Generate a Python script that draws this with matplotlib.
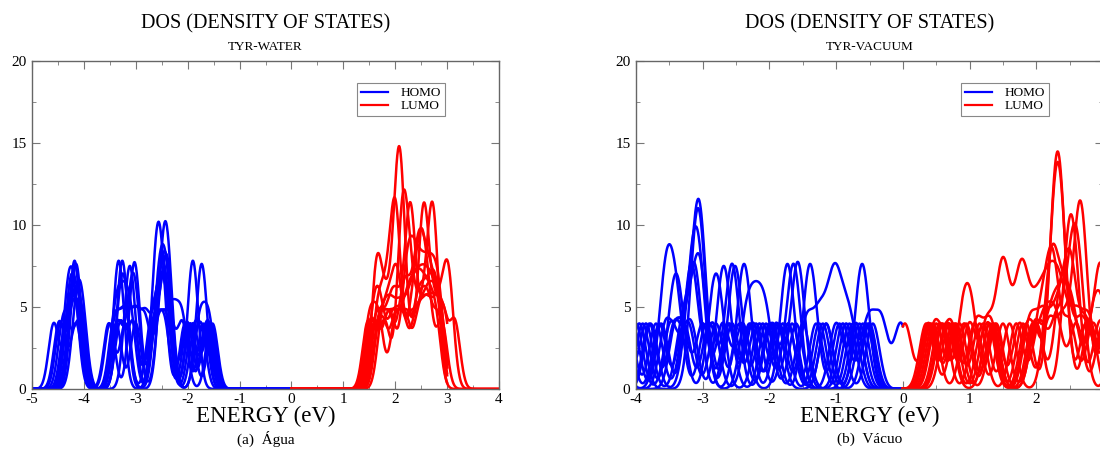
import numpy as np
import matplotlib
matplotlib.use("Agg")
import matplotlib.pyplot as plt
from matplotlib.ticker import MultipleLocator

plt.rcParams['font.family'] = ['Liberation Serif', 'DejaVu Serif']
plt.rcParams['axes.unicode_minus'] = False

# Broadening width (eV) of each orbital level in the DOS
SIGMA = 0.1

# Occupied / virtual orbital energies (eV) for each MD snapshot, tyrosine in water
water_homo = [
    [-4.58, -4.28, -4.12, -3.50, -3.05, -3.00, -2.62, -2.42, -2.38, -1.92, -1.88],
    [-4.48, -4.22, -4.08, -3.35, -3.31, -2.50, -2.43, -2.36, -1.76, -1.70],
    [-4.20, -4.16, -3.28, -3.24, -2.62, -2.57, -2.48, -2.05, -1.65],
    [-4.28, -4.18, -3.40, -3.20, -3.00, -2.80, -2.58, -2.47, -2.28, -2.10, -1.55],
    [-4.15, -4.03, -3.40, -3.25, -3.10, -2.60, -2.40, -1.95, -1.52],
    [-4.35, -4.10, -3.52, -3.20, -2.70, -2.52, -2.40, -1.85, -1.60],
    [-4.40, -4.20, -4.05, -3.35, -3.10, -3.00, -2.65, -2.45, -2.00, -1.62],
    [-4.30, -4.15, -3.30, -3.20, -2.58, -2.48, -2.38, -1.77, -1.59],
    [-4.45, -4.15, -3.42, -3.22, -3.02, -2.82, -2.55, -2.35, -2.10, -1.70],
    [-4.25, -4.08, -3.30, -3.05, -2.68, -2.50, -2.42, -1.90, -1.58],
    [-4.32, -4.22, -4.05, -3.15, -3.08, -2.60, -2.45, -2.38, -2.02, -1.75],
    [-4.18, -4.12, -3.38, -3.00, -2.52, -2.42, -1.95, -1.62],
]
water_lumo = [
    [1.47, 1.72, 1.92, 2.18, 2.28, 2.38, 2.50, 2.62, 2.74, 2.86],
    [1.62, 1.68, 1.85, 2.02, 2.06, 2.10, 2.14, 2.40, 2.55, 2.70, 2.82],
    [1.55, 1.80, 2.10, 2.15, 2.20, 2.32, 2.50, 2.65, 2.85],
    [1.70, 1.90, 2.05, 2.24, 2.29, 2.34, 2.55, 2.70, 2.85],
    [1.60, 1.85, 2.05, 2.25, 2.50, 2.55, 2.60, 2.78, 2.96],
    [1.65, 1.80, 1.95, 2.00, 2.05, 2.30, 2.50, 2.67, 2.72, 2.77],
    [1.52, 1.75, 2.00, 2.20, 2.45, 2.62, 2.80, 2.97, 3.05],
    [1.58, 1.72, 1.95, 2.15, 2.40, 2.58, 2.75, 2.92, 3.15],
    [1.75, 1.92, 2.10, 2.28, 2.42, 2.55, 2.68, 2.83],
    [1.50, 1.68, 2.00, 2.20, 2.35, 2.48, 2.62, 2.78],
    [1.68, 1.88, 2.12, 2.25, 2.42, 2.48, 2.60, 2.72, 2.88],
    [1.62, 1.82, 1.98, 2.08, 2.32, 2.47, 2.52, 2.65, 2.90],
]
# upper end of the energy grid used for each LUMO curve
water_lumo_end = [3.0, 3.0, 3.0, 3.0, 3.0, 3.0, 4.0, 4.0, 3.0, 4.0, 3.0, 4.0]

# Same quantities for tyrosine in vacuum
vacuum_homo = [
    [-4.05, -3.58, -3.50, -3.38, -2.95, -2.56, -2.20, -1.72, -1.30, -0.80],
    [-4.30, -3.95, -3.12, -3.07, -3.02, -2.62, -2.05, -1.66, -1.00, -0.70],
    [-4.20, -3.85, -3.30, -3.10, -3.06, -3.02, -2.35, -2.20, -2.05, -1.60, -0.90, -0.55],
    [-4.40, -3.78, -3.20, -3.09, -3.05, -2.70, -2.40, -1.76, -1.70, -1.15, -0.65],
    [-4.12, -3.70, -3.25, -3.08, -3.02, -2.45, -1.98, -1.67, -1.61, -0.85, -0.50],
    [-4.25, -3.62, -3.20, -3.14, -2.85, -2.30, -1.90, -1.60, -1.55, -0.75],
    [-3.90, -3.45, -3.35, -2.85, -2.75, -2.15, -1.80, -1.25, -0.60],
    [-4.35, -3.40, -3.16, -3.10, -2.60, -2.25, -1.95, -1.42, -1.36, -0.95, -0.45],
    [-4.15, -3.65, -3.28, -2.90, -2.59, -2.53, -2.00, -1.50, -0.64, -0.58],
    [-4.00, -3.48, -3.22, -2.80, -2.41, -2.35, -1.85, -1.45, -1.25, -1.07, -0.97,
     -0.80, -0.52, -0.32, -0.03],
    [-4.50, -3.55, -3.32, -3.00, -2.55, -2.48, -2.10, -1.72, -1.20, -0.70],
    [-3.80, -3.42, -3.18, -2.72, -2.65, -2.28, -1.88, -1.15, -0.52],
]
vacuum_lumo = [
    [0.03, 0.38, 0.80, 1.30, 1.85, 2.26, 2.30, 2.34, 2.38, 2.75, 3.05, 3.30],
    [0.45, 0.95, 1.35, 1.95, 2.25, 2.30, 2.34, 2.40, 2.80, 3.10],
    [0.55, 0.90, 1.03, 1.40, 2.00, 2.46, 2.52, 2.58, 2.95, 3.20],
    [0.40, 0.75, 1.25, 1.47, 1.53, 1.74, 1.82, 2.00, 2.15, 2.27, 2.40, 2.60, 2.80],
    [0.60, 1.10, 1.32, 1.80, 2.18, 2.40, 2.62, 2.66, 2.70, 3.05],
    [0.35, 0.70, 1.20, 1.60, 2.20, 2.25, 2.40, 2.55, 2.85, 3.00],
    [0.50, 0.85, 1.38, 1.75, 2.05, 2.22, 2.26, 2.50, 2.85, 3.15],
    [0.65, 1.00, 1.28, 1.90, 2.10, 2.30, 2.48, 2.52, 2.75, 3.05],
    [0.42, 0.78, 1.15, 1.70, 2.05, 2.30, 2.50, 2.58, 2.65, 3.20],
    [0.58, 0.92, 1.35, 2.00, 2.35, 2.45, 2.68, 2.93, 2.99],
    [0.48, 0.72, 1.08, 1.50, 1.98, 2.22, 2.38, 2.52, 2.78, 3.10],
    [0.38, 0.68, 1.30, 1.88, 2.12, 2.30, 2.60, 3.00, 3.35],
]
vacuum_lumo_end = [4.0] * len(vacuum_lumo)

panels = [
    dict(sub="TYR-WATER", caption="(a)  Água", xlim=(-5, 4),
         homo=water_homo, lumo=water_lumo, lumo_end=water_lumo_end),
    dict(sub="TYR-VACUUM", caption="(b)  Vácuo", xlim=(-4, 3),
         homo=vacuum_homo, lumo=vacuum_lumo, lumo_end=vacuum_lumo_end),
]


def dos(levels, e):
    """Gaussian-broadened density of states on the energy grid e."""
    lv = np.asarray(levels)[:, None]
    g = np.exp(-0.5 * ((e[None, :] - lv) / SIGMA) ** 2)
    return g.sum(axis=0) / (SIGMA * np.sqrt(2 * np.pi))


W, H = 1100, 455
fig = plt.figure(figsize=(W / 100, H / 100), dpi=100)

lefts = [32, 636]
ax_w = 467
y_top, y_bot = 61, 389

for px, p in zip(lefts, panels):
    ax = fig.add_axes([px / W, 1 - y_bot / H, ax_w / W, (y_bot - y_top) / H])

    e_homo = np.linspace(-5, 0, 1001)
    for lv in p["homo"]:
        ax.plot(e_homo, dos(lv, e_homo), color="#0000ff", lw=1.8)
    for lv, end in zip(p["lumo"], p["lumo_end"]):
        e_lumo = np.linspace(0, end, int(end * 200) + 1)
        ax.plot(e_lumo, dos(lv, e_lumo), color="#ff0000", lw=1.8)

    lo, hi = p["xlim"]
    ax.set_xlim(lo, hi)
    ax.set_ylim(0, 20)
    xt = np.arange(lo, hi + 1)
    ax.set_xticks(xt)
    # the last label of the right panel falls past the figure edge
    ax.set_xticklabels([str(v) if (px == lefts[0] or v < hi) else "" for v in xt])
    ax.xaxis.set_minor_locator(MultipleLocator(0.5))
    ax.yaxis.set_major_locator(MultipleLocator(5))
    ax.yaxis.set_minor_locator(MultipleLocator(2.5))
    ax.tick_params(which="both", direction="in", top=True, right=True,
                   color="#777777", labelsize=11)
    ax.tick_params(axis="x", pad=3)
    ax.tick_params(axis="y", pad=4)
    ax.tick_params(which="major", length=6)
    ax.tick_params(which="minor", length=3)
    for s in ax.spines.values():
        s.set_color("#666666")
        s.set_linewidth(1.0)

    h1, = ax.plot([], [], color="#0000ff", lw=1.6, label="HOMO")
    h2, = ax.plot([], [], color="#ff0000", lw=1.6, label="LUMO")
    leg = ax.legend(handles=[h1, h2], loc="upper left", bbox_to_anchor=(0.697, 0.932),
                    borderaxespad=0, fontsize=9.5, handlelength=2.0, handletextpad=1.0,
                    borderpad=0.3, labelspacing=0.05, fancybox=False, framealpha=1)
    leg.get_frame().set_edgecolor("#888888")
    leg.get_frame().set_linewidth(0.8)

    cx = (px + ax_w / 2) / W
    fig.text(cx, 1 - 24 / H, "DOS (DENSITY OF STATES)", ha="center", va="center", fontsize=14.5)
    fig.text(cx, 1 - 47 / H, p["sub"], ha="center", va="center", fontsize=9.5)
    fig.text(cx, 1 - 416 / H, "ENERGY (eV)", ha="center", va="center", fontsize=16.5)
    fig.text(cx, 1 - 439 / H, p["caption"], ha="center", va="center", fontsize=11)

fig.savefig("out.png", dpi=100)
